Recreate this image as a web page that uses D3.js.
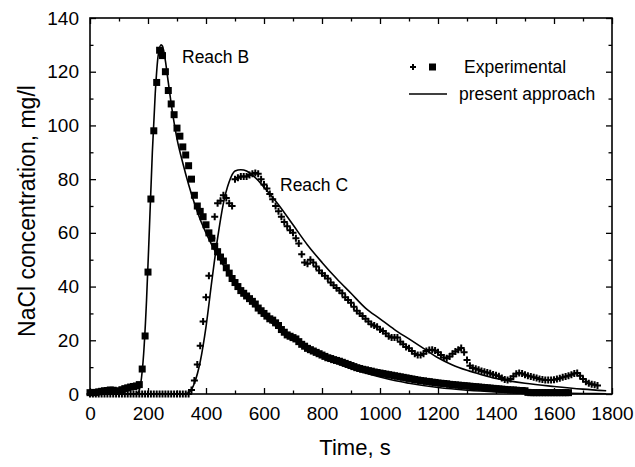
<!DOCTYPE html>
<html>
<head>
<meta charset="utf-8">
<script src="https://cdn.jsdelivr.net/npm/d3@7"></script>
<style>
  body { margin: 0; background: #fff; }
  text { font-family: "Liberation Sans", Arial, sans-serif; fill: #000; }
</style>
</head>
<body>
<svg id="chart" width="635" height="467"></svg>
<script>
// sampling times of the experiments (every 10 s)
var expTimes = d3.range(0, 1760, 10);

// Reach B, experimental (squares)
var expB = [
  0.5, 0.5, 0.6, 0.8, 1.0, 1.2, 1.3, 1.5, 1.4, 1.0,
  1.2, 1.6, 2.0, 2.3, 2.6, 2.8, 3.0, 3.5, 9.3, 21.6,
  45.4, 72.6, 98, 116, 128, 126, 120, 113, 108, 104,
  99, 96, 92, 89, 85, 80, 74, 70, 68, 66,
  63, 60, 58, 55, 53, 51, 49.5, 47, 45, 43,
  41.5, 40, 38.5, 37.5, 36.5, 35.5, 34.5, 33.5, 32, 31,
  30, 29, 28, 27.5, 26.5, 25.5, 24, 23, 22, 21.5,
  21, 20.5, 19.5, 18.5, 17.8, 17, 16.5, 16, 15.5, 15,
  14.5, 14, 13.5, 13.2, 12.8, 12.5, 12.2, 11.8, 11.4, 11,
  10.6, 10.2, 9.8, 9.5, 9.2, 9, 8.7, 8.5, 8.2, 8,
  7.8, 7.6, 7.4, 7.2, 7, 6.8, 6.6, 6.4, 6.2, 6,
  5.8, 5.6, 5.4, 5.2, 5, 4.9, 4.7, 4.6, 4.4, 4.3,
  4.1, 4, 3.9, 3.8, 3.6, 3.5, 3.4, 3.3, 3.2, 3.1,
  3, 2.9, 2.8, 2.7, 2.6, 2.5, 2.4, 2.3, 2.2, 2.1,
  2.0, 1.9, 1.8, 1.7, 1.6, 1.5, 1.5, 1.4, 1.3, 1.3,
  1.2, 0.6, 0.5, 0.5, 0.5, 0.5, 0.5, 0.5, 0.5, 0.5,
  0.5, 0.5, 0.5, 0.5, 0.5, 0.5
];

// Reach C, experimental (plus signs)
var expC = [
  0, 0, 0, 0, 0, 0, 0, 0, 0, 0,
  0, 0, 0, 0, 0, 0, 0, 0, 0, 0,
  0, 0, 0, 0, 0, 0, 0, 0, 0, 0,
  0, 0, 0, 0, 0, 1.5, 5, 11, 18, 27,
  36, 44, 58, 66, 71, 72, 74, 73, 71, 70,
  80, 80.5, 81, 81, 81, 81.5, 82, 82.3, 82, 80,
  78, 76.5, 74.5, 72.5, 70, 68, 66, 64, 62.5, 61,
  60, 58, 56, 52, 49, 48.5, 50, 49, 47.5, 46,
  45, 44, 43, 41.5, 40.5, 39.5, 38.5, 37.5, 36, 35,
  34, 32.5, 31, 30, 29, 28, 27, 26, 25.5, 25,
  24, 23.5, 22.5, 21.5, 21, 21, 21, 19.5, 18.5, 17.5,
  17, 16, 15, 14.5, 14.5, 15, 16, 16.4, 16.5, 16.2,
  15.5, 14.5, 13.6, 13.3, 14, 15, 15.8, 16.5, 17.1, 15.5,
  12.7, 10.5, 9.7, 9.4, 9.0, 8.6, 8.3, 8, 7.7, 7.3,
  7, 6.6, 6, 5.4, 5.2, 5.6, 6.6, 7.5, 7.8, 7.6,
  7.2, 6.8, 6.5, 6.2, 6, 5.6, 5.4, 5.2, 5.2, 5.2,
  5.3, 5.6, 5.9, 6.2, 6.5, 6.8, 7.2, 7.6, 7.8, 6.8,
  5.6, 4.6, 4, 3.6, 3.4, 3.2
];

// present approach (model curves)
var modelBTimes = [0, 150, 165, 175, 185, 195, 205, 215, 225, 235, 245, 250, 260, 270, 280, 290, 300, 320, 340, 360, 380, 400, 420, 440, 460, 480, 500, 550, 600, 650, 700, 750, 800, 850, 900, 950, 1000, 1050, 1100, 1200, 1300, 1400, 1500, 1600, 1700, 1780];
var modelB = [0, 0, 0.5, 4, 15, 35, 62, 90, 112, 126, 130, 129.5, 124, 116, 108, 101, 95, 86, 78, 71, 65, 60, 55.5, 51.5, 48, 44.5, 41.5, 35, 29, 24.5, 20.5, 17, 14, 11.5, 9.5, 7.8, 6.3, 5, 4, 2.4, 1.4, 0.8, 0.5, 0.3, 0.2, 0.1];

var modelCTimes = [0, 320, 340, 360, 380, 400, 420, 440, 460, 480, 500, 520, 540, 560, 580, 600, 650, 700, 750, 800, 850, 900, 950, 1000, 1050, 1100, 1150, 1200, 1250, 1300, 1350, 1400, 1450, 1500, 1600, 1700, 1780];
var modelC = [0, 0, 0.5, 4, 12, 25, 42, 58, 71, 79, 83, 83.5, 83, 81.5, 79.5, 77, 70.5, 63, 55.5, 49, 43, 37.5, 32, 28, 24, 20.5, 17, 13.5, 10.8, 8.8, 7.2, 5.8, 4.8, 4, 2.8, 1.8, 1.2];

var xTicks = [0, 200, 400, 600, 800, 1000, 1200, 1400, 1600, 1800];
var yTicks = [0, 20, 40, 60, 80, 100, 120, 140];

var svg = d3.select("#chart");
var plotL = 90, plotR = 612, plotT = 18, plotB = 394;

var x = d3.scaleLinear().domain([0, 1800]).range([plotL, plotR]);
var y = d3.scaleLinear().domain([0, 140]).range([plotB, plotT]);

var xMinor = d3.range(100, 1800, 200);
var yMinor = d3.range(10, 140, 20);

// axes, ticks pointing inward
function styleAxis(g) {
  g.select(".domain").remove();
  g.selectAll(".tick line").attr("stroke", "#000").attr("stroke-width", 1.3);
  g.selectAll(".tick text").style("font-size", "19px").attr("fill", "#000");
}

svg.append("g").attr("transform", "translate(0," + plotB + ")")
  .call(d3.axisBottom(x).tickValues(xTicks).tickSizeInner(-6).tickPadding(13).tickFormat(d3.format("d")))
  .call(styleAxis);
svg.append("g").attr("transform", "translate(0," + plotB + ")")
  .call(d3.axisBottom(x).tickValues(xMinor).tickSizeInner(-3.5).tickFormat(""))
  .call(styleAxis);
svg.append("g").attr("transform", "translate(0," + plotT + ")")
  .call(d3.axisTop(x).tickValues(xTicks).tickSizeInner(-6).tickFormat(""))
  .call(styleAxis);
svg.append("g").attr("transform", "translate(0," + plotT + ")")
  .call(d3.axisTop(x).tickValues(xMinor).tickSizeInner(-3.5).tickFormat(""))
  .call(styleAxis);

svg.append("g").attr("transform", "translate(" + plotL + ",0)")
  .call(d3.axisLeft(y).tickValues(yTicks).tickSizeInner(-6).tickPadding(11).tickFormat(d3.format("d")))
  .call(styleAxis);
svg.append("g").attr("transform", "translate(" + plotL + ",0)")
  .call(d3.axisLeft(y).tickValues(yMinor).tickSizeInner(-3.5).tickFormat(""))
  .call(styleAxis);
svg.append("g").attr("transform", "translate(" + plotR + ",0)")
  .call(d3.axisRight(y).tickValues(yTicks).tickSizeInner(-6).tickFormat(""))
  .call(styleAxis);
svg.append("g").attr("transform", "translate(" + plotR + ",0)")
  .call(d3.axisRight(y).tickValues(yMinor).tickSizeInner(-3.5).tickFormat(""))
  .call(styleAxis);

// frame
svg.append("rect")
  .attr("x", plotL).attr("y", plotT)
  .attr("width", plotR - plotL).attr("height", plotB - plotT)
  .attr("fill", "none").attr("stroke", "#000").attr("stroke-width", 1.6);

// model lines
var line = d3.line().curve(d3.curveMonotoneX)
  .x(function(d) { return x(d[0]); })
  .y(function(d) { return y(d[1]); });

svg.append("path")
  .datum(d3.zip(modelBTimes, modelB))
  .attr("d", line).attr("fill", "none").attr("stroke", "#000").attr("stroke-width", 1.6);
svg.append("path")
  .datum(d3.zip(modelCTimes, modelC))
  .attr("d", line).attr("fill", "none").attr("stroke", "#000").attr("stroke-width", 1.6);

// experimental C : plus signs
var plus = "M-3.5,0H3.5M0,-3.5V3.5";
svg.append("g").selectAll("path")
  .data(d3.zip(expTimes, expC))
  .join("path")
  .attr("transform", function(d) { return "translate(" + x(d[0]) + "," + y(d[1]) + ")"; })
  .attr("d", plus)
  .attr("stroke", "#000").attr("stroke-width", 2).attr("fill", "none");

// experimental B : squares
var sq = 7;
svg.append("g").selectAll("rect")
  .data(d3.zip(expTimes, expB))
  .join("rect")
  .attr("x", function(d) { return x(d[0]) - sq / 2; })
  .attr("y", function(d) { return y(d[1]) - sq / 2; })
  .attr("width", sq).attr("height", sq)
  .attr("fill", "#000");

// annotations
svg.append("text").attr("x", 182).attr("y", 63).style("font-size", "17.5px").text("Reach B");
svg.append("text").attr("x", 280).attr("y", 191).style("font-size", "17.5px").text("Reach C");

// legend
svg.append("path").attr("transform", "translate(413,67)").attr("d", "M-3,0H3M0,-3V3")
  .attr("stroke", "#000").attr("stroke-width", 2);
svg.append("rect").attr("x", 429).attr("y", 63.5).attr("width", 7).attr("height", 7).attr("fill", "#000");
svg.append("text").attr("x", 464).attr("y", 73).style("font-size", "17.5px").text("Experimental");
svg.append("line").attr("x1", 409).attr("x2", 447).attr("y1", 94).attr("y2", 94)
  .attr("stroke", "#000").attr("stroke-width", 1.6);
svg.append("text").attr("x", 459).attr("y", 100).style("font-size", "17.5px").text("present approach");

// axis titles
svg.append("text").attr("x", 355).attr("y", 455)
  .attr("text-anchor", "middle").style("font-size", "22px").text("Time, s");
svg.append("text")
  .attr("transform", "translate(35,211) rotate(-90)")
  .attr("text-anchor", "middle").style("font-size", "23px").text("NaCl concentration, mg/l");
</script>
</body>
</html>
